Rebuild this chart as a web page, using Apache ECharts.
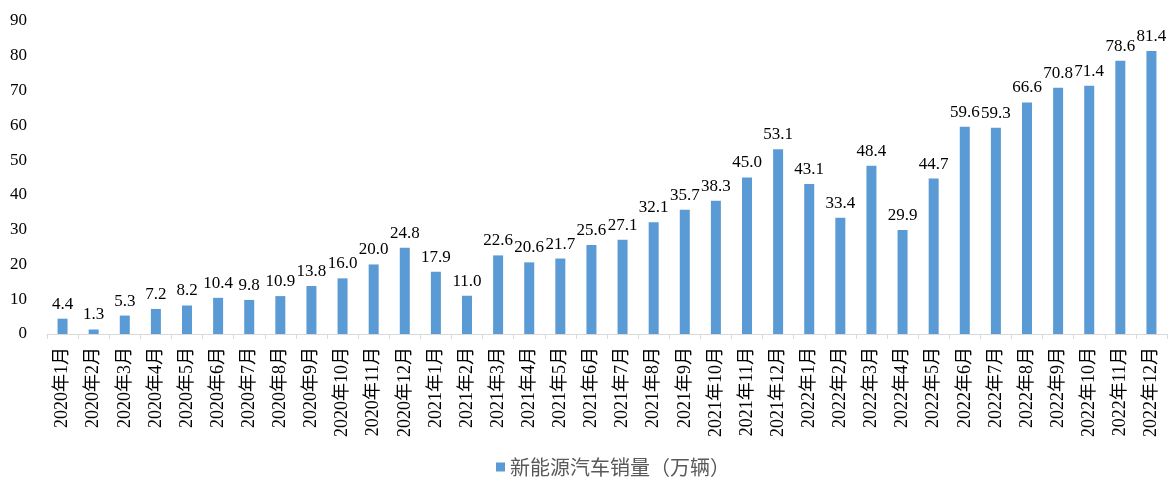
<!DOCTYPE html>
<html>
<head>
<meta charset="utf-8">
<script src="https://cdn.jsdelivr.net/npm/echarts@6/dist/echarts.min.js"></script>
<style>
  html, body { margin: 0; padding: 0; background: #fff; }
  #main { width: 1171px; height: 477px; }
</style>
</head>
<body>
<div id="main"></div>
<script>
const years = ['2020', '2021', '2022'];
const months = [1, 2, 3, 4, 5, 6, 7, 8, 9, 10, 11, 12];
const seriesName = '新能源汽车销量（万辆）';
const sales = [
  4.4, 1.3, 5.3, 7.2, 8.2, 10.4, 9.8, 10.9, 13.8, 16.0, 20.0, 24.8,
  17.9, 11.0, 22.6, 20.6, 21.7, 25.6, 27.1, 32.1, 35.7, 38.3, 45.0, 53.1,
  43.1, 33.4, 48.4, 29.9, 44.7, 59.6, 59.3, 66.6, 70.8, 71.4, 78.6, 81.4
];

let categories = [];
years.forEach((y) => {
  months.forEach((m) => categories.push(y + '年' + m + '月'));
});

const serif = '"Liberation Serif", "Noto Sans CJK SC", serif';

let chart = echarts.init(document.getElementById('main'));
let options = {
  animation: false,
  grid: {
    top: 21,
    left: 47,
    right: 4,
    bottom: 143,
  },
  legend: {
    top: 452,
    left: 491,
    itemWidth: 9,
    itemHeight: 9,
    itemGap: 4,
    icon: 'rect',
    textStyle: {
      fontFamily: '"Noto Sans CJK SC", sans-serif',
      fontSize: 20,
      color: '#595959',
    },
    data: [seriesName],
  },
  xAxis: {
    type: 'category',
    data: categories,
    axisLine: { lineStyle: { color: '#d9d9d9', width: 1 } },
    axisTick: { show: true, length: 5, lineStyle: { color: '#d9d9d9' } },
    axisLabel: {
      rotate: 90,
      interval: 0,
      margin: 13,
      fontFamily: serif,
      fontSize: 18,
      color: '#000',
    },
  },
  yAxis: {
    type: 'value',
    min: 0,
    max: 90,
    interval: 10,
    splitLine: { show: false },
    axisLine: { show: false },
    axisTick: { show: false },
    axisLabel: {
      margin: 20,
      fontFamily: serif,
      fontSize: 17,
      color: '#000',
    },
  },
  series: [
    {
      name: seriesName,
      type: 'bar',
      data: sales,
      barWidth: 10,
      itemStyle: { color: '#5b9bd5' },
      label: {
        show: true,
        position: 'top',
        distance: 6,
        formatter: (p) => p.value.toFixed(1),
        fontFamily: serif,
        fontSize: 17,
        color: '#000',
      },
    },
  ],
};
chart.setOption(options);
</script>
</body>
</html>
